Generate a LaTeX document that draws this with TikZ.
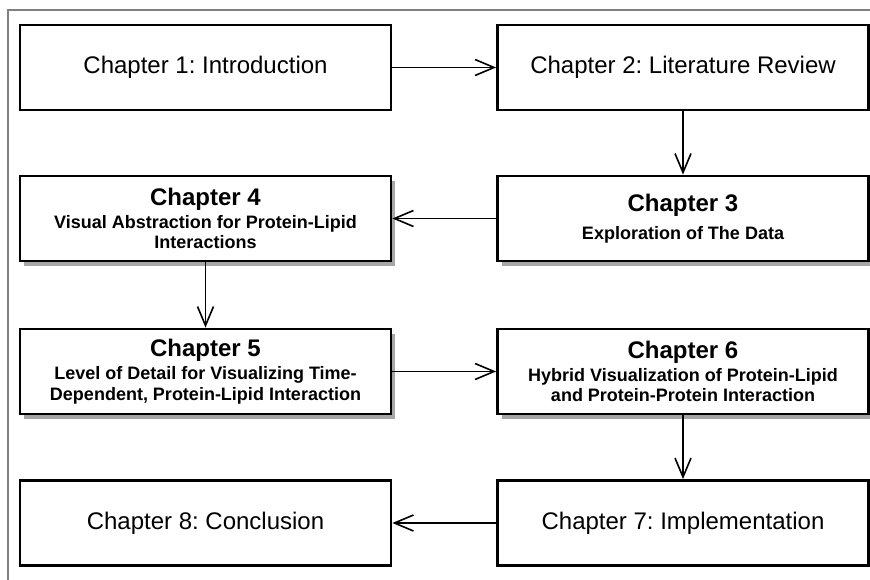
\documentclass[tikz,border=0pt]{standalone}
\usepackage{fontspec}
\setmainfont{Liberation Sans}
\usetikzlibrary{arrows.meta,shadows}
\frenchspacing
\begin{document}
\begin{tikzpicture}[x=1pt,y=-1pt,
  box/.style={draw=black, line width=2.8pt, fill=white, minimum width=371pt, minimum height=85pt, inner sep=0pt, align=center, text=black},
  plain/.style={box, font=\fontsize{24}{28}\selectfont},
  rich/.style={box, font=\fontsize{18}{20.5}\selectfont\bfseries, drop shadow={shadow xshift=4pt, shadow yshift=-5pt, fill=black!35, opacity=1}},
  link/.style={line width=1.6pt, -{Straight Barb[length=19pt,width=16pt,line width=1.6pt]}},
  frame/.style={draw=black!50, line width=1.5pt}
]
\useasboundingbox (0,0) rectangle (870,580);
\draw[frame] (8,580) -- (8,10) -- (870,10);

\node[plain] (c1) at (205.5,67.5) {Chapter 1: Introduction};
\node[plain] (c2) at (683,67.5) {Chapter 2: Literature Review};
\node[rich] (c3) at (683,218.5) {{\fontsize{24}{24}\selectfont Chapter 3}\\[7.5pt]Exploration of The Data};
\node[rich] (c4) at (205.5,218.5) {{\fontsize{24}{24}\selectfont Chapter 4}\\[2.5pt]Visual Abstraction for Protein-Lipid\\Interactions};
\node[rich] (c5) at (205.5,371.5) {{\fontsize{24}{24}\selectfont Chapter 5}\\[2.5pt]Level of Detail for Visualizing Time-\\Dependent, Protein-Lipid Interaction};
\node[rich] (c6) at (683,371.5) {{\fontsize{24}{24}\selectfont Chapter 6}\\[2.5pt]Hybrid Visualization of Protein-Lipid\\and Protein-Protein Interaction};
\node[plain] (c7) at (683,523) {Chapter 7: Implementation};
\node[plain] (c8) at (205.5,523) {Chapter 8: Conclusion};

\draw[link] (c1) -- (c2);
\draw[link] (c2) -- (c3);
\draw[link] (c3) -- (c4);
\draw[link] (c4) -- (c5);
\draw[link] (c5) -- (c6);
\draw[link] (c6) -- (c7);
\draw[link] (c7) -- (c8);
\end{tikzpicture}
\end{document}
